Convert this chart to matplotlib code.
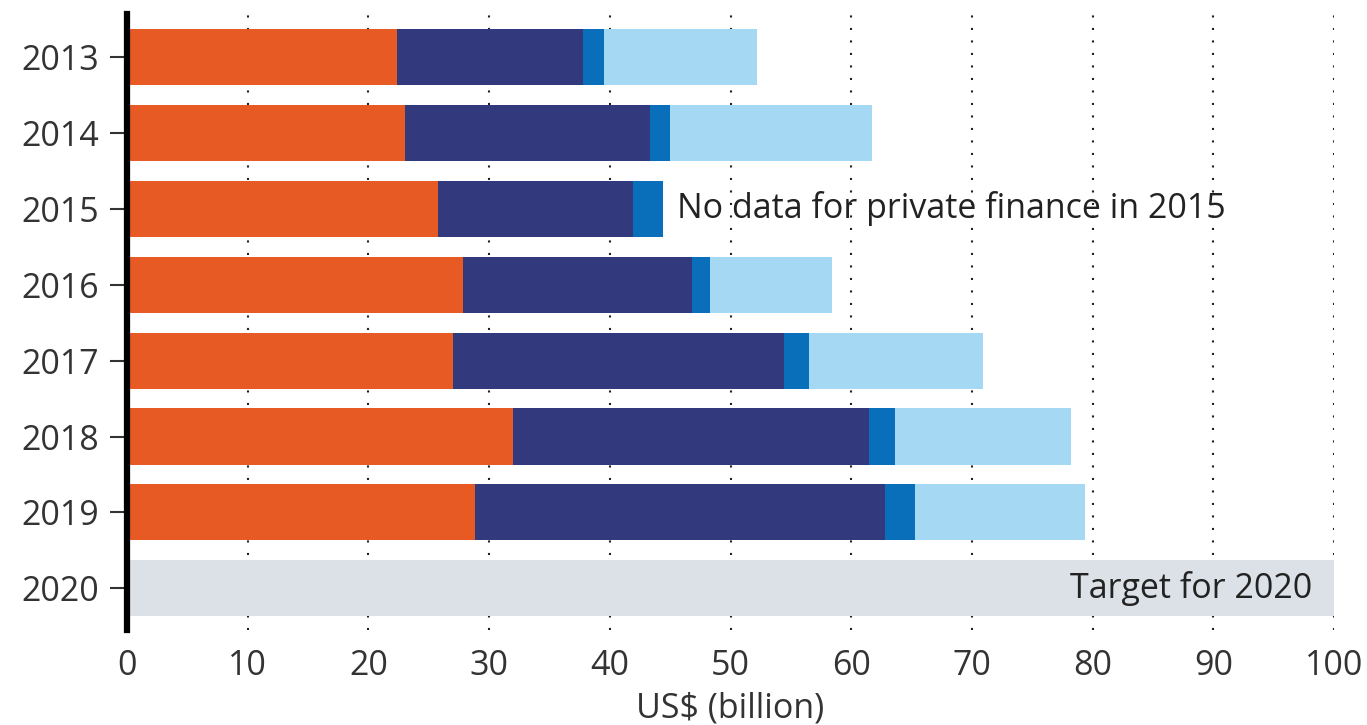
import matplotlib.pyplot as plt
import numpy as np

# values (US$ billion)
years = ['2013', '2014', '2015', '2016', '2017', '2018', '2019', '2020']
bilateral = [22.4, 23.0, 25.8, 27.8, 27.0, 32.0, 28.8, 0]
multilateral = [15.4, 20.3, 16.1, 19.0, 27.4, 29.5, 34.0, 0]
export_credit = [1.7, 1.7, 2.5, 1.5, 2.1, 2.1, 2.5, 0]
private = [12.7, 16.7, 0, 10.1, 14.4, 14.6, 14.1, 0]
target = [0, 0, 0, 0, 0, 0, 0, 100]

colors = ['#e85a24', '#323a7d', '#0a6fba', '#a5d8f3']
target_color = '#dce1e8'

plt.rcParams['font.family'] = ['Open Sans', 'DejaVu Sans']
fs = 24.5

fig = plt.figure(figsize=(13.67, 7.25), dpi=100)
ax = fig.add_axes([127 / 1367, 1 - 630 / 725, (1334 - 127) / 1367, (630 - 14) / 725])

y = np.arange(len(years))
h = 0.74
left = np.zeros(len(years))
for vals, c in zip([bilateral, multilateral, export_credit, private], colors):
    ax.barh(y, vals, left=left, height=h, color=c, zorder=2)
    left += np.array(vals)
ax.barh(y, target, height=h, color=target_color, zorder=2)

ax.text(45.6, 2, 'No data for private finance in 2015', va='center', ha='left',
        fontsize=fs, color='#222222', zorder=3)
ax.text(98.2, 7, 'Target for 2020', va='center', ha='right',
        fontsize=fs, color='#222222', zorder=3)

ax.set_xlim(0, 100)
ax.set_ylim(7.55, -0.57)
ax.set_yticks(y)
ax.set_yticklabels(years)
ax.set_xticks(range(0, 101, 10))

for xv in range(10, 101, 10):
    ax.axvline(xv, color='#222222', linestyle=(0, (1, 5)), linewidth=1.5, zorder=1)

for s in ['top', 'right', 'bottom']:
    ax.spines[s].set_visible(False)
ax.spines['left'].set_linewidth(4.5)
ax.spines['left'].set_color('black')

ax.tick_params(axis='y', length=12, width=1.5, pad=8, labelsize=fs, colors='#333333')
ax.tick_params(axis='x', length=0, pad=14, labelsize=fs, colors='#333333')
ax.set_xlabel('US$ (billion)', fontsize=fs, color='#333333', labelpad=6)

fig.savefig('out.png', dpi=100)
